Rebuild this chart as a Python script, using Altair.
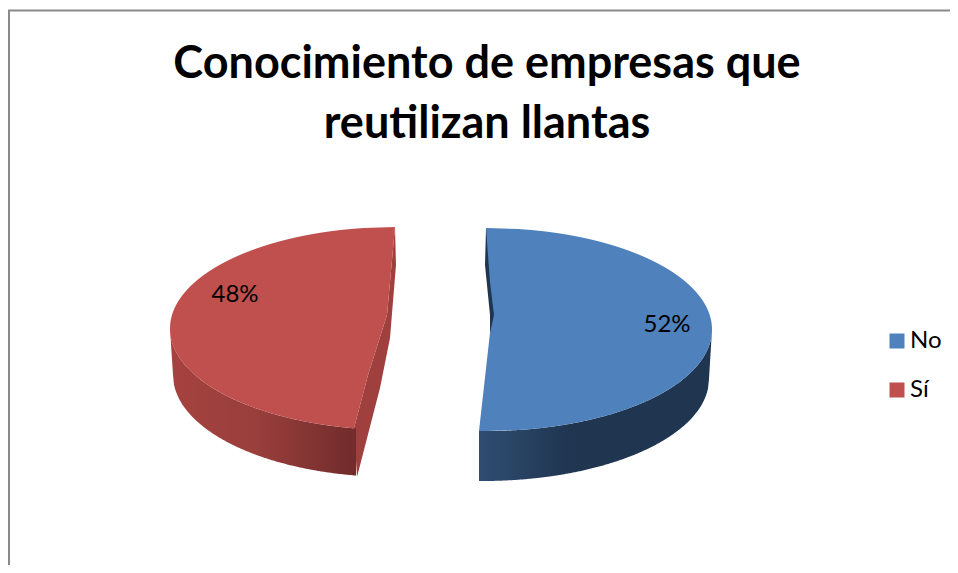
import altair as alt
import numpy as np
import pandas as pd

categories = ["No", "Sí"]
values = [52, 48]
colors = ["#4F81BD", "#C0504D"]
title_lines = ["Conocimiento de empresas que", "reutilizan llantas"]

FONT = "Lato"
X = alt.Scale(domain=[8, 950])
Y = alt.Scale(domain=[8, 565], reverse=True)
x_enc = lambda f: alt.X(f, type="quantitative", scale=X, axis=None)
y_enc = lambda f: alt.Y(f, type="quantitative", scale=Y, axis=None)
x2 = lambda f: alt.X2(f)


def arc(delta, r, rr):
    return r * np.sqrt(np.clip(1 - (delta / rr) ** 2, 0, 1))


def grad(stops):
    return alt.LinearGradient(gradient="linear", x1=0, x2=1, y1=0, y2=0,
                              stops=[alt.GradientStop(offset=o, color=c) for o, c in stops])


# --- top faces (horizontal bands) ---
ys_b = np.arange(228, 432, 1.0)
blue_left = np.interp(ys_b, [228, 282, 315, 333, 431], [486, 490, 494, 490, 479])
blue_right = 487 + arc(ys_b - 329.5, 225, 101.5)
ys_r = np.arange(227, 429, 1.0)
red_left = 395 - arc(ys_r - 328.5, 225, 101.5)
red_right = np.interp(ys_r, [227, 282, 315, 375, 428], [395, 390, 387, 368, 354])
faces = pd.concat([
    pd.DataFrame({"y": ys_b, "a": blue_left, "b": blue_right, "cat": categories[0]}),
    pd.DataFrame({"y": ys_r, "a": red_left, "b": red_right, "cat": categories[1]}),
])
face_layer = alt.Chart(faces).mark_area(orient="horizontal", interpolate="linear").encode(
    y=y_enc("y"), x=x_enc("a"), x2=x2("b"),
    color=alt.Color("cat:N", scale=alt.Scale(domain=categories, range=colors),
                    legend=alt.Legend(title=None, orient="none", legendX=877, legendY=321,
                                      symbolType="square", symbolSize=225, symbolStrokeWidth=0,
                                      labelFont=FONT, labelFontSize=24, labelColor="#000000",
                                      labelOffset=1, rowPadding=25, labelLimit=80)),
)

# --- red inner cut wall ---
ys_w = np.arange(227, 478, 1.0)
wall = pd.DataFrame({
    "y": ys_w,
    "a": np.interp(ys_w, [227, 282, 315, 375, 428, 477], [395, 390, 387, 368, 354, 357]),
    "b": np.interp(ys_w, [227, 265, 338, 388, 477], [395, 396, 390, 380, 357]),
})
wall_layer = alt.Chart(wall).mark_area(orient="horizontal", color="#A0403E").encode(
    y=y_enc("y"), x=x_enc("a"), x2=x2("b"))

# --- blue inner sliver ---
ys_s = np.arange(229, 334, 1.0)
sliver = pd.DataFrame({
    "y": ys_s,
    "a": np.interp(ys_s, [229, 265, 315, 333], [486, 485, 490, 490]),
    "b": np.interp(ys_s, [229, 282, 315, 333], [487, 491, 495, 491]),
})
sliver_layer = alt.Chart(sliver).mark_area(orient="horizontal", color="#1F3550").encode(
    y=y_enc("y"), x=x_enc("a"), x2=x2("b"))

# --- rim walls ---
xs_r = np.arange(170, 357, 1.0)
red_top = 328.5 + arc(xs_r - 395, 101.5, 225)
red_bot = np.maximum(375 + arc(xs_r - 393, 102, 220), red_top)
red_bot = np.where(xs_r < 173, np.interp(xs_r, [170, 173], [red_top[0], 375]), red_bot)
red_rim = pd.DataFrame({"x": xs_r, "t": red_top, "u": red_bot})
red_rim_layer = alt.Chart(red_rim).mark_area(
    color=grad([(0, "#A5423F"), (0.45, "#9A3F3C"), (1, "#702C2B")])
).encode(x=x_enc("x"), y=y_enc("t"), y2=alt.Y2("u"))

xs_b = np.arange(479, 713, 1.0)
blue_top = 329.5 + arc(xs_b - 487, 101.5, 225)
blue_bot = np.maximum(379 + arc(xs_b - 483, 102, 226), blue_top)
blue_bot = np.where(xs_b > 709, np.interp(xs_b, [709, 712], [379, blue_top[-1]]), blue_bot)
blue_rim = pd.DataFrame({"x": xs_b, "t": blue_top, "u": blue_bot})
blue_rim_layer = alt.Chart(blue_rim).mark_area(
    color=grad([(0, "#2F4D72"), (0.4, "#1F3550"), (1, "#1F3550")])
).encode(x=x_enc("x"), y=y_enc("t"), y2=alt.Y2("u"))

# --- percent labels ---
labels = pd.DataFrame({"t": [f"{v}%" for v in values], "x": [667, 235], "y": [325, 295]})
label_layer = alt.Chart(labels).mark_text(font=FONT, fontSize=24, color="#000000").encode(
    x=x_enc("x"), y=y_enc("y"), text="t:N")

# --- title ---
tdf = pd.DataFrame({"t": title_lines, "x": [487, 487], "y": [64, 124]})
title_layer = alt.Chart(tdf).mark_text(font=FONT, fontSize=45, fontWeight="bold", color="#000000").encode(
    x=x_enc("x"), y=y_enc("y"), text="t:N")

# --- chart frame ---
frame_top = alt.Chart(pd.DataFrame({"a": [8], "b": [950], "y": [10.5]})).mark_rule(
    color="#8A8A8A", strokeWidth=2).encode(x=x_enc("a"), x2=x2("b"), y=y_enc("y"))
frame_left = alt.Chart(pd.DataFrame({"x": [9], "a": [10], "b": [565]})).mark_rule(
    color="#8A8A8A", strokeWidth=2).encode(x=x_enc("x"), y=y_enc("a"), y2=alt.Y2("b"))

chart = alt.layer(
    frame_top, frame_left, wall_layer, sliver_layer, red_rim_layer, blue_rim_layer,
    face_layer, label_layer, title_layer,
).properties(width=942, height=557, padding=0, autosize=alt.AutoSizeParams(type="none"),
             background="#FFFFFF").configure_view(stroke=None)

chart.save("out.html", embed_options={"renderer": "svg", "actions": False})
